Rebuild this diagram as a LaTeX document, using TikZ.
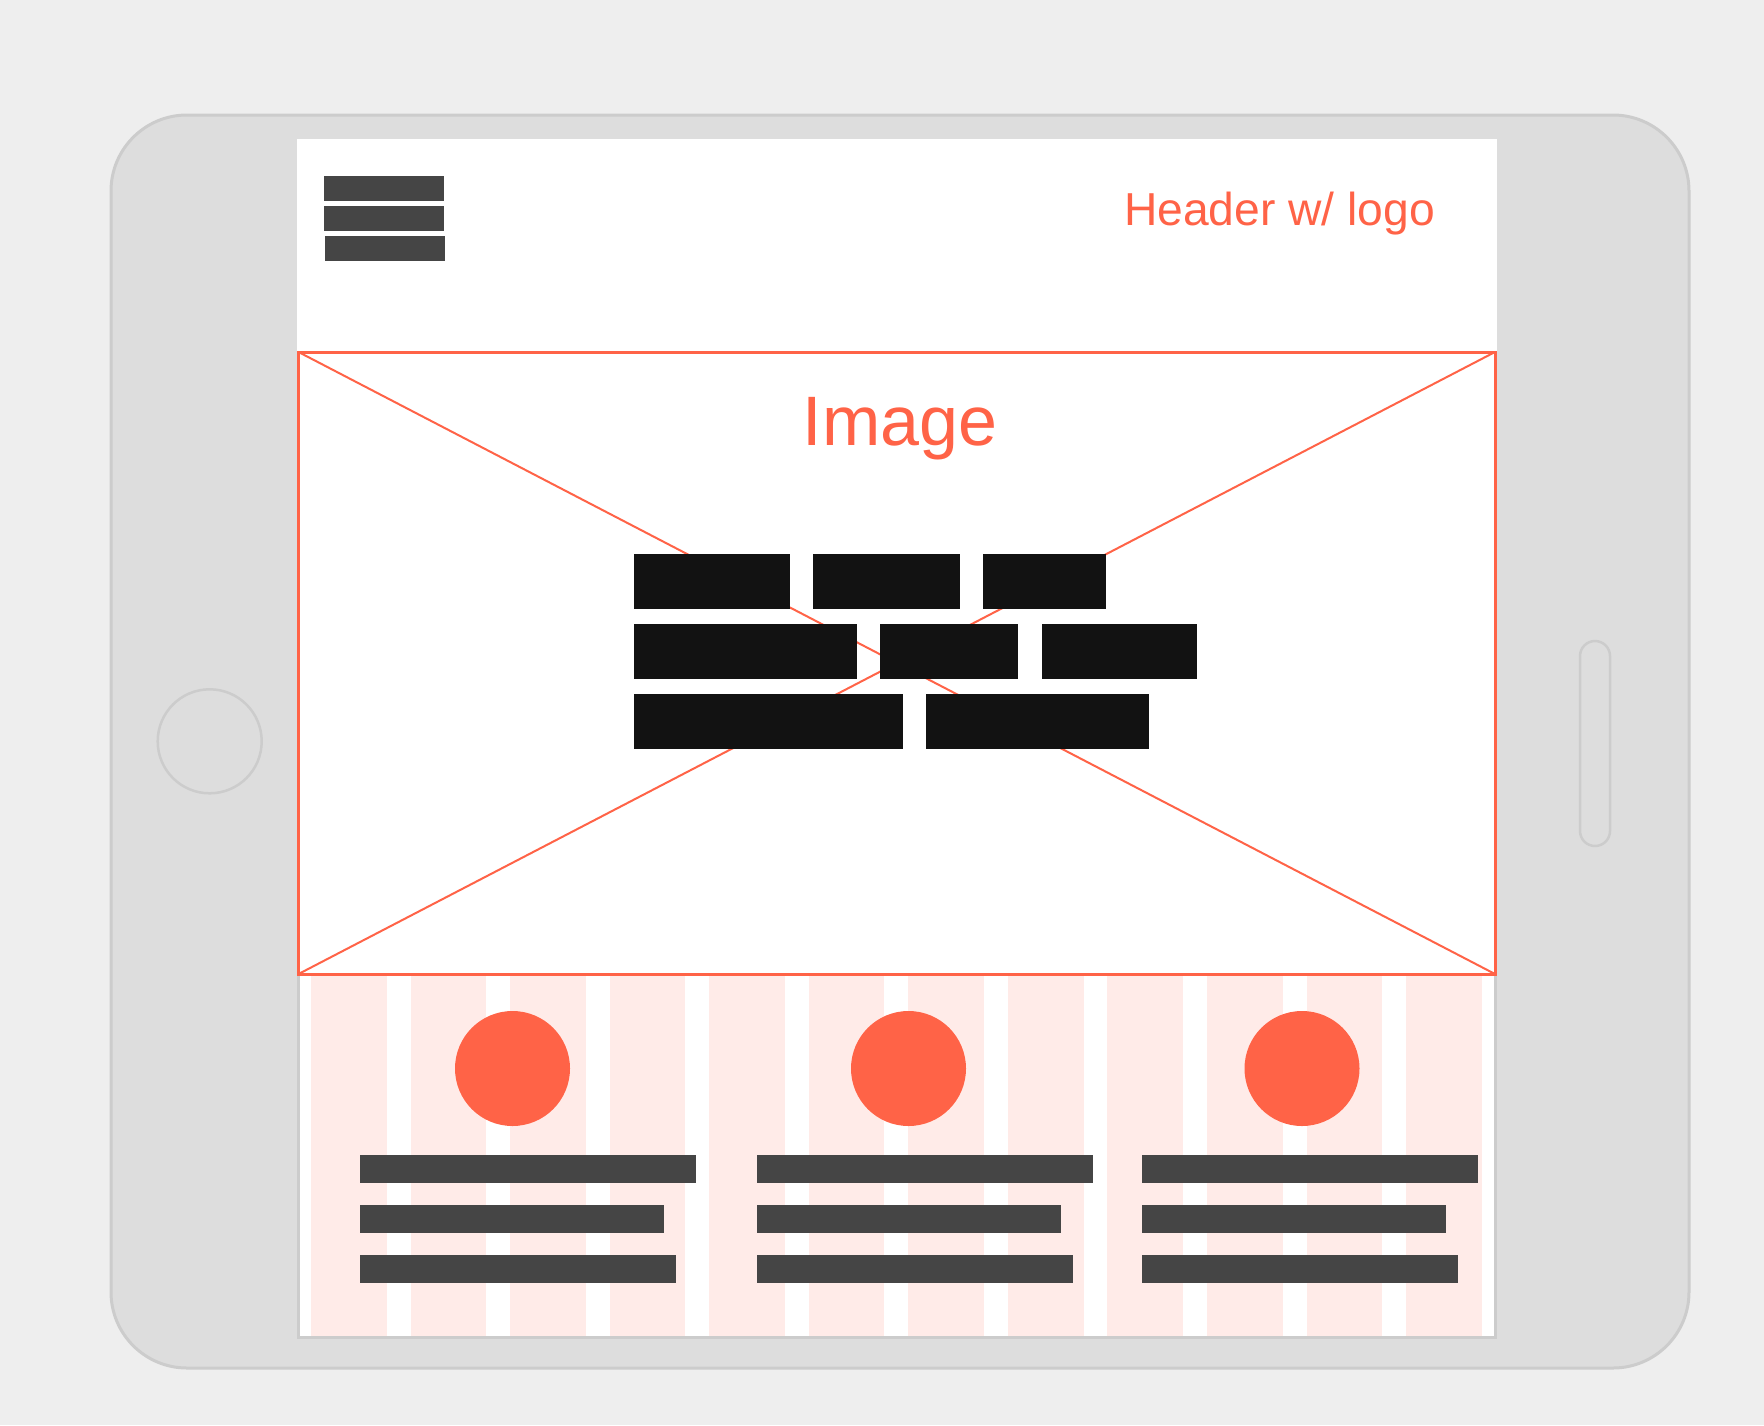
\documentclass[tikz,border=0pt]{standalone}
\usepackage{fontspec}
\setmainfont{Liberation Sans}
\definecolor{pagebg}{HTML}{EEEEEE}
\definecolor{shell}{HTML}{DDDDDD}
\definecolor{shellline}{HTML}{CCCCCC}
\definecolor{accent}{HTML}{FF6347}
\definecolor{gridpink}{RGB}{255,235,232}
\definecolor{barfill}{HTML}{454545}
\definecolor{blockfill}{HTML}{121212}
\tikzset{
  shellbody/.style={fill=shell, draw=shellline, line width=3pt, rounded corners=76pt},
  shellbutton/.style={fill=shell, draw=shellline, line width=2.5pt},
  screenfill/.style={fill=white},
  lowerpanel/.style={fill=white, draw=shellline, line width=3pt},
  gridcol/.style={fill=gridpink},
  imgframe/.style={fill=white, draw=accent, line width=3pt},
  imgcross/.style={draw=accent, line width=2pt},
  menubar/.style={fill=barfill},
  textbar/.style={fill=barfill},
  wordblock/.style={fill=blockfill},
  dot/.style={fill=accent},
  label/.style={text=accent, inner sep=0pt}
}
\begin{document}
\begin{tikzpicture}[x=1pt,y=-1pt]
\useasboundingbox (0,0) rectangle (1764,1425);
\fill[pagebg] (0,0) rectangle (1764,1425);

% tablet body and hardware buttons
\draw[shellbody] (111,115) rectangle (1689,1368);
\draw[shellbutton] (209.7,741.3) circle (52);
\draw[shellbutton, rounded corners=15pt] (1580,641) rectangle (1610,846);

% screen area (header)
\fill[screenfill] (297,139) rectangle (1497,352);

% hamburger menu
\fill[menubar] (324,176) rectangle (444,201);
\fill[menubar] (324,206) rectangle (444,231);
\fill[menubar] (325,236) rectangle (445,261);

\node[label, anchor=base west, font=\fontsize{46.2}{50}\selectfont] (header) at (1124,225) {Header w/ logo};

% lower content panel with 12-column grid
\draw[lowerpanel] (298.5,974) rectangle (1495.5,1337.5);
\foreach \i in {0,...,11}
  \fill[gridcol] ({311+99.55*\i},975.5) rectangle ({311+99.55*\i+75.7},1336);

% image placeholder
\coordinate (inw) at (298.5,352);
\coordinate (ine) at (1495,352);
\coordinate (isw) at (298.5,974);
\coordinate (ise) at (1495,974);
\draw[imgframe] (inw) rectangle (ise);
\draw[imgcross] (inw) -- (ise);
\draw[imgcross] (ine) -- (isw);

\node[label, anchor=base, font=\fontsize{70}{76}\selectfont] (imagelabel) at (900,445) {Image};

% headline text blocks
\fill[wordblock] (634,554) rectangle (790,609);
\fill[wordblock] (813,554) rectangle (960,609);
\fill[wordblock] (983,554) rectangle (1106,609);
\fill[wordblock] (634,624) rectangle (857,679);
\fill[wordblock] (880,624) rectangle (1018,679);
\fill[wordblock] (1042,624) rectangle (1197,679);
\fill[wordblock] (634,694) rectangle (903,749);
\fill[wordblock] (926,694) rectangle (1149,749);

% three feature columns
\fill[dot] (512.5,1068.5) circle (57.5);
\fill[dot] (908.5,1068.5) circle (57.5);
\fill[dot] (1302,1068.5) circle (57.5);

\foreach \x in {360,757,1142} {
  \fill[textbar] (\x,1155) rectangle ({\x+336},1183);
  \fill[textbar] (\x,1205) rectangle ({\x+304},1233);
  \fill[textbar] (\x,1255) rectangle ({\x+316},1283);
}
\end{tikzpicture}
\end{document}
